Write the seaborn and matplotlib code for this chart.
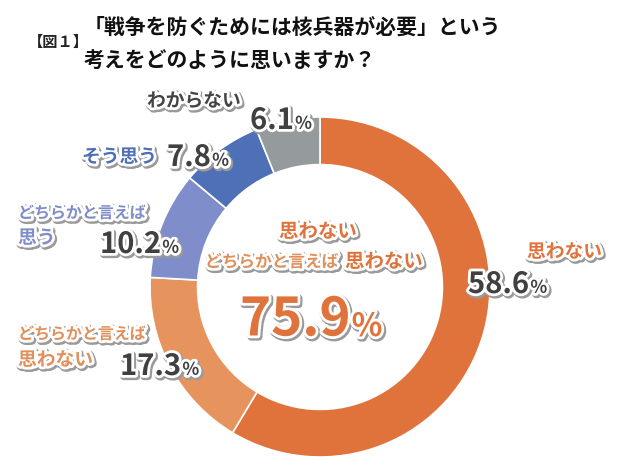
import matplotlib.pyplot as plt
import matplotlib.patheffects as pe
import seaborn as sns

# Data
categories = ['思わない', 'どちらかと言えば思わない', 'どちらかと言えば思う', 'そう思う', 'わからない']
values = [58.6, 17.3, 10.2, 7.8, 6.1]
colors = ['#E0733B', '#E6935D', '#7F8DCB', '#4E70B6', '#959A9D']
title_lines = ['「戦争を防ぐためには核兵器が必要」という', '考えをどのように思いますか？']
fig_label = '【図１】'

sns.set_theme(style='white')
plt.rcParams['font.family'] = ['Noto Sans CJK JP', 'DejaVu Sans']

W, H = 640, 463
fig = plt.figure(figsize=(W / 100, H / 100), dpi=100)

# donut: centre (320, 287) px, outer radius 170 px
cx, cy, r = 320, 287, 170
ax = fig.add_axes([(cx - r) / W, (H - cy - r) / H, 2 * r / W, 2 * r / H])
ax.pie(values, colors=colors, startangle=90, counterclock=False, radius=1,
       wedgeprops=dict(width=0.28, edgecolor='white', linewidth=1.2))
ax.set_xlim(-1, 1)
ax.set_ylim(-1, 1)
ax.set_aspect('equal')
ax.axis('off')

outline = [pe.Stroke(linewidth=5, foreground='#9a9a9a', offset=(1, -1.2)),
           pe.Stroke(linewidth=4, foreground='white'), pe.Normal()]


def txt(x, y, s, size, color, ha='left', va='center', effects=True):
    return fig.text(x / W, 1 - y / H, s, fontsize=size, color=color, ha=ha, va=va,
                    fontweight='bold', path_effects=outline if effects else None)


def pct(x, y, v, size, color='#404040'):
    t = txt(x, y, f'{v:.1f}', size, color)
    fig.canvas.draw()
    bb = t.get_window_extent()
    txt(bb.x1 + 1, y + size * 0.18, '%', size * 0.6, color)


# title
txt(28, 42, fig_label, 11, '#222222', effects=False)
txt(84, 27, title_lines[0], 15, '#111111', effects=False)
txt(84, 60, title_lines[1], 15, '#111111', effects=False)

# わからない
txt(147, 101, categories[4], 13.5, '#444444')
pct(250, 120, values[4], 21)
# そう思う
txt(82, 157, categories[3], 13.5, '#4E70B6')
pct(167, 157, values[3], 21)
# どちらかと言えば思う
txt(18, 213, 'どちらかと言えば', 11.5, '#7F8DCB')
txt(18, 238, '思う', 13.5, '#7F8DCB')
pct(100, 244, values[2], 21)
# どちらかと言えば思わない
txt(18, 334, 'どちらかと言えば', 11.5, '#E0905A')
txt(18, 360, '思わない', 13.5, '#E0905A')
pct(120, 366, values[1], 21)
# 思わない
txt(527, 252, categories[0], 13.5, '#E0733B')
pct(468, 284, values[0], 21)

# centre total
txt(318, 232, '思わない', 14, '#E0733B', ha='center')
txt(205, 262, 'どちらかと言えば', 12, '#E0905A')
txt(345, 262, '思わない', 14, '#E0733B')
t = txt(240, 320, f'{values[0] + values[1]:.1f}', 38, '#E0733B')
fig.canvas.draw()
bb = t.get_window_extent()
txt(bb.x1 + 1, 320 + 7, '%', 23, '#E0733B')

fig.savefig('out.png', dpi=100, facecolor='white')
